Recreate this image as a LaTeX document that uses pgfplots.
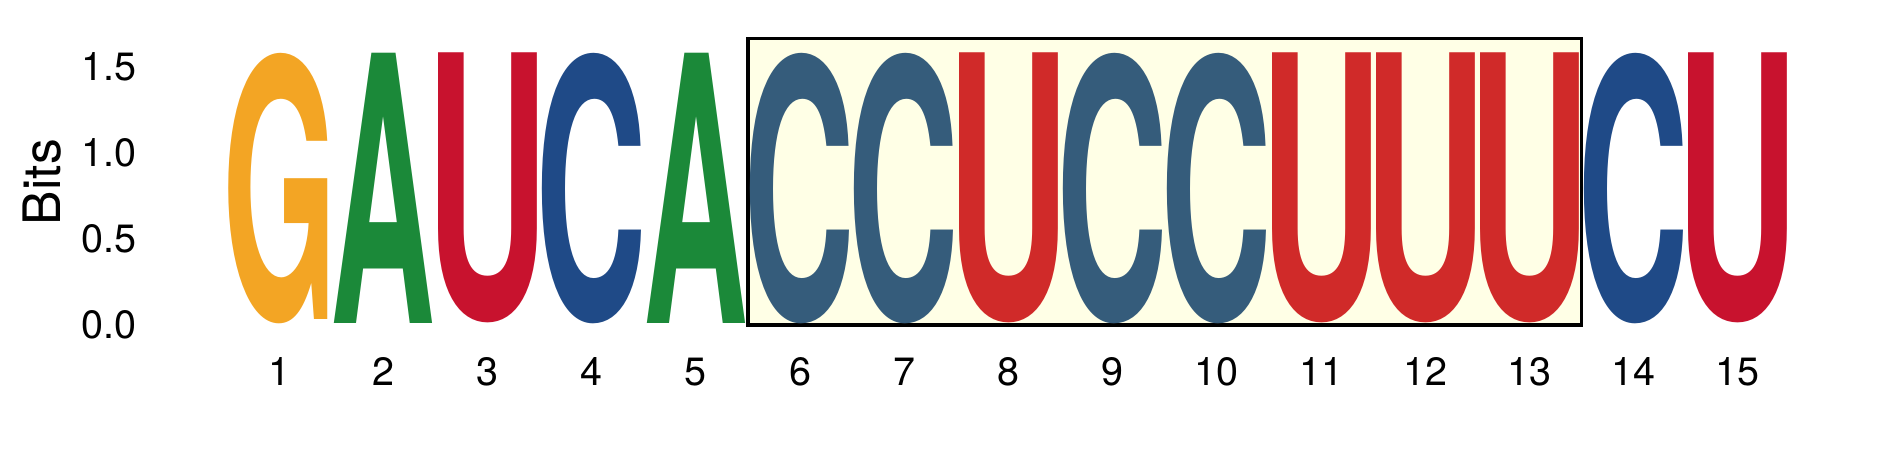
\documentclass[border=0pt]{standalone}
\usepackage{fontspec}
\setmainfont{TeX Gyre Heros}
\usepackage{graphicx}
\usepackage{pgfplots}
\pgfplotsset{compat=1.18}

\definecolor{gorange}{RGB}{243,165,36}
\definecolor{agreen}{RGB}{27,137,57}
\definecolor{ucrimson}{RGB}{200,18,46}
\definecolor{cblue}{RGB}{31,74,135}
\definecolor{cslate}{RGB}{53,92,123}
\definecolor{ured}{RGB}{208,42,41}
\definecolor{boxyellow}{RGB}{255,255,230}

% stretched letter, side bearings trimmed so the ink fills the box
\newcommand{\logoletter}[3]{\resizebox*{49.5pt}{135pt}{\bfseries\hspace*{-#2em}#1\hspace*{-#3em}}}

\pgfplotsset{
  logo/.style={only marks, mark=none, clip=false,
    nodes near coords={#1},
    every node near coord/.append style={anchor=north, inner sep=0pt, outer sep=0pt}},
}

\begin{document}
\begin{tikzpicture}
\useasboundingbox (0,0) rectangle (944.5pt,236pt);
\begin{axis}[
  at={(113.45pt,73.5pt)}, anchor=south west,
  x=52.1pt, y=86pt,
  xmin=0.5, xmax=15.5, ymin=0, ymax=1.7,
  enlargelimits=false, clip=false,
  axis line style={draw=none}, major tick length=0pt,
  xtick={1,...,15}, ytick={0,0.5,1,1.5},
  /pgf/number format/assume math mode=true,
  xticklabel style={font=\fontsize{19.75}{20}\selectfont, anchor=base, inner sep=0pt, yshift=-30pt},
  yticklabel style={font=\fontsize{19.75}{20}\selectfont, anchor=east, inner sep=0pt, xshift=-45pt,
    /pgf/number format/fixed, /pgf/number format/fixed zerofill, /pgf/number format/precision=1},
  ylabel={Bits},
  every axis y label/.style={at={(axis cs:-1.27,0.831)}, anchor=center, rotate=90,
    font=\fontsize{25.8}{26}\selectfont},
]
% highlighted region
\addplot[fill=boxyellow, draw=black, line width=1.7pt, line join=miter]
  coordinates {(5.5,0) (13.5,0) (13.5,1.665) (5.5,1.665)} -- cycle;

\addplot[logo={\logoletter{G}{0.044}{0.065}}, gorange]
  coordinates {(1,1.58)};
\addplot[logo={\logoletter{A}{0.02}{0.02}}, agreen]
  coordinates {(2,1.58) (5,1.58)};
\addplot[logo={\logoletter{U}{0.072}{0.071}}, ucrimson]
  coordinates {(3,1.58) (15,1.58)};
\addplot[logo={\logoletter{C}{0.044}{0.038}}, cblue]
  coordinates {(4,1.58) (14,1.58)};
\addplot[logo={\logoletter{C}{0.044}{0.038}}, cslate]
  coordinates {(6,1.58) (7,1.58) (9,1.58) (10,1.58)};
\addplot[logo={\logoletter{U}{0.072}{0.071}}, ured]
  coordinates {(8,1.58) (11,1.58) (12,1.58) (13,1.58)};
\end{axis}
\end{tikzpicture}
\end{document}
